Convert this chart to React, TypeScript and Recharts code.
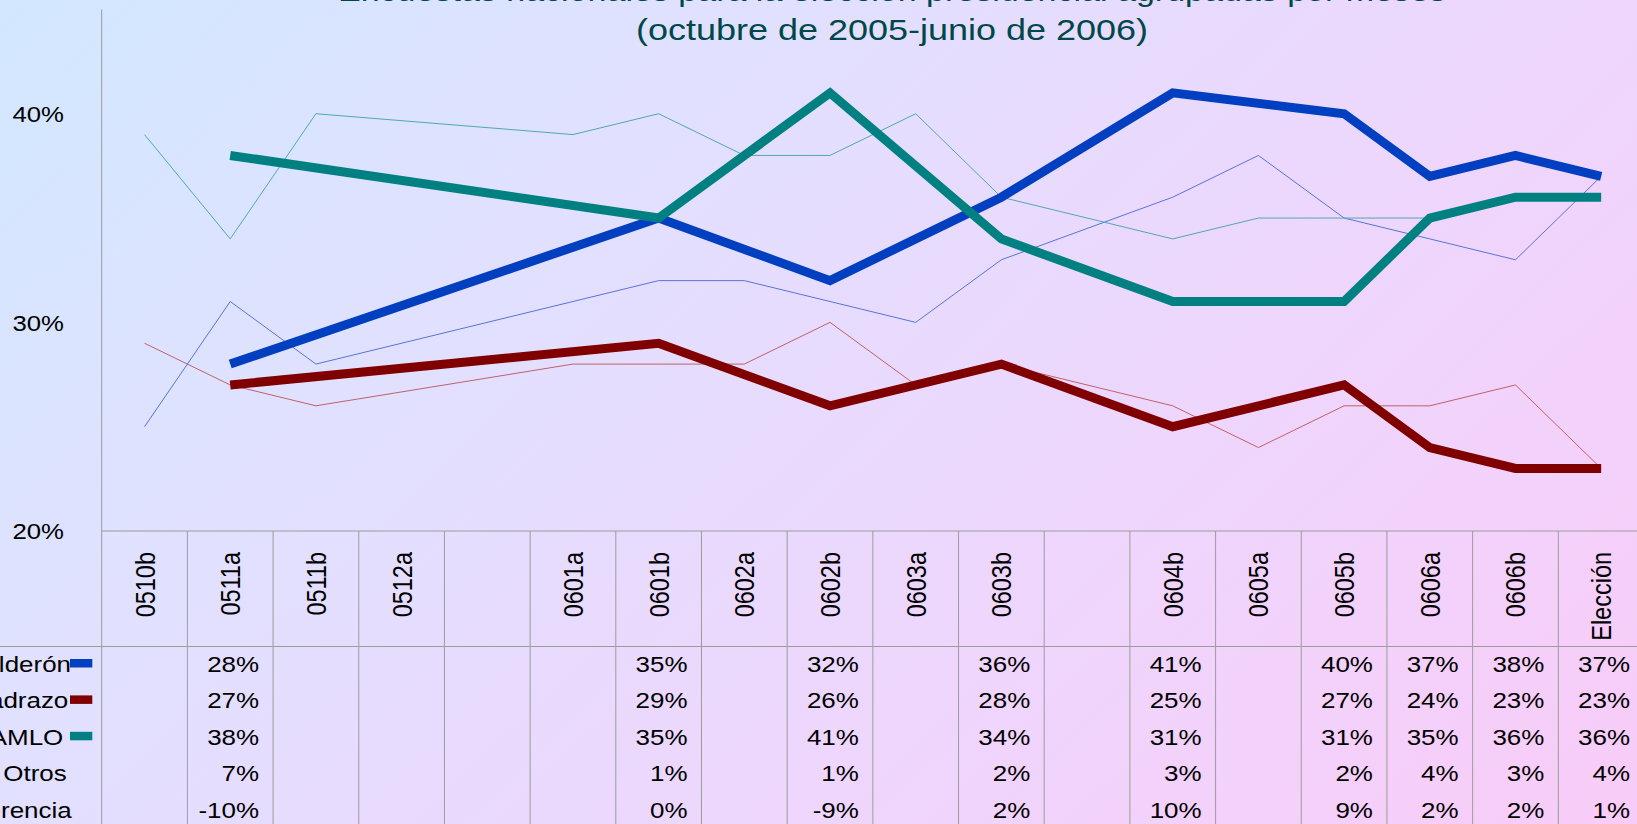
import React from 'react';
import { ComposedChart, Line, XAxis, YAxis } from 'recharts';

// categories (quincenas); "_a" / "_b" are the two empty columns of the table
const categories = ['0510b', '0511a', '0511b', '0512a', '_a', '0601a', '0601b', '0602a', '0602b', '0603a', '0603b', '_b', '0604b', '0605a', '0605b', '0606a', '0606b', 'Elección'];

// thick series (values in %)
const calderon = [null, 28, null, null, null, null, 35, null, 32, null, 36, null, 41, null, 40, 37, 38, 37];
const madrazo = [null, 27, null, null, null, null, 29, null, 26, null, 28, null, 25, null, 27, 24, 23, 23];
const amlo = [null, 38, null, null, null, null, 35, null, 41, null, 34, null, 31, null, 31, 35, 36, 36];
const otros = [null, 7, null, null, null, null, 1, null, 1, null, 2, null, 3, null, 2, 4, 3, 4];
const diferencia = [null, -10, null, null, null, null, 0, null, -9, null, 2, null, 10, null, 9, 2, 2, 1];

// thin series (individual polls)
const calderonPolls = [25, 31, 28, null, null, 31, 32, 32, 31, 30, 33, null, 36, 38, 35, 34, 33, 37];
const madrazoPolls = [29, 27, 26, null, null, 28, 28, 28, 30, 27, 28, null, 26, 24, 26, 26, 27, 23];
const amloPolls = [39, 34, 40, null, null, 39, 40, 38, 38, 40, 36, null, 34, 35, 35, 35, 36, 36];

const rowLabels = ['Calderón', 'Madrazo', 'AMLO', 'Otros', 'Diferencia'];
const tableRows = [calderon, madrazo, amlo, otros, diferencia];
const yTicks = [20, 30, 40];

const BLUE = '#0040c0';
const RED = '#800000';
const TEAL = '#008080';
const keyColors = [BLUE, RED, TEAL, null, null];
const GRID = '#9c9c9c';
const FONT = '"Liberation Sans", Arial, sans-serif';

const W = 1660;
const H = 860;
const PLOT_LEFT = 101.7;
const PLOT_RIGHT = 1644;
const PLOT_BOTTOM = 531;
const COL_W = (PLOT_RIGHT - PLOT_LEFT) / categories.length;
const HEADER_H = 115.5;
const ROW_C = 664;
const ROW_H = 36.4;
const labelEnds = [71, 68.3, 63.3, 66.7, 71.7];

const data = categories.map((cat, i) => ({
  cat,
  calderon: calderon[i],
  madrazo: madrazo[i],
  amlo: amlo[i],
  calderonPolls: calderonPolls[i],
  madrazoPolls: madrazoPolls[i],
  amloPolls: amloPolls[i],
}));

function YTick(props: any) {
  const { x, y, payload } = props;
  return (
    <text transform={`translate(${x},${y + 8.2}) scale(1.12,1)`} textAnchor="end" fontSize={23} fontFamily={FONT} fill="#000">
      {payload.value}%
    </text>
  );
}

function ColumnTick(props: any) {
  const { x, y, payload } = props;
  const i = categories.indexOf(payload.value);
  const left = x - COL_W / 2;
  const label = payload.value.startsWith('_') ? '' : payload.value;
  return (
    <g>
      <line x1={left} x2={left} y1={y} y2={y + 340} stroke={GRID} />
      {i === categories.length - 1 && <line x1={left + COL_W} x2={left + COL_W} y1={y} y2={y + 340} stroke={GRID} />}
      <line x1={left} x2={left + COL_W} y1={y} y2={y} stroke={GRID} />
      <line x1={i === 0 ? 0 : left} x2={left + COL_W} y1={y + HEADER_H} y2={y + HEADER_H} stroke={GRID} />
      {label && (
        <text
          transform={`translate(${x + 10},${y + 21}) scale(1.18,1) rotate(-90)`}
          textAnchor="end"
          fontSize={23.5}
          fontFamily={FONT}
          fill="#000"
        >
          {label}
        </text>
      )}
      {tableRows.map((row, r) =>
        row[i] == null ? null : (
          <text
            key={r}
            transform={`translate(${left + COL_W - 14},${ROW_C + ROW_H * r + 8}) scale(1.18,1)`}
            textAnchor="end"
            fontSize={22}
            fontFamily={FONT}
            fill="#000"
          >
            {row[i]}%
          </text>
        )
      )}
      {i === 0 &&
        rowLabels.map((name, r) => (
          <g key={name}>
            <text
              transform={`translate(${labelEnds[r]},${ROW_C + ROW_H * r + 8}) scale(1.18,1)`}
              textAnchor="end"
              fontSize={22}
              fontFamily={FONT}
              fill="#000"
            >
              {name}
            </text>
            {keyColors[r] && <rect x={70} y={ROW_C + ROW_H * r - 5} width={22.3} height={8.5} fill={keyColors[r] as string} />}
          </g>
        ))}
    </g>
  );
}

export default function App() {
  return (
    <div
      style={{
        position: 'fixed',
        left: 0,
        top: 0,
        width: 1637,
        height: 824,
        overflow: 'hidden',
        background: 'linear-gradient(136deg, #d2e8ff 0%, #e2e0ff 33%, #eed6fc 65%, #f8ccf8 100%)',
      }}
    >
      <svg width={1637} height={60} style={{ position: 'absolute', left: 0, top: 0 }}>
        <text x={892} y={0.5} textAnchor="middle" fontSize={30} fontFamily={FONT} fill="#004848" textLength={1108} lengthAdjust="spacingAndGlyphs">
          Encuestas nacionales para la elección presidencial agrupadas por meses
        </text>
        <text x={892} y={39.5} textAnchor="middle" fontSize={30} fontFamily={FONT} fill="#004848" textLength={512} lengthAdjust="spacingAndGlyphs">
          (octubre de 2005-junio de 2006)
        </text>
      </svg>
      <div style={{ position: 'absolute', left: 0, top: 0 }}>
        <ComposedChart width={W} height={H} data={data} margin={{ top: 9.4, right: W - PLOT_RIGHT, bottom: 0, left: 0 }}>
          <XAxis
            dataKey="cat"
            scale="band"
            interval={0}
            height={H - PLOT_BOTTOM}
            axisLine={false}
            tickLine={false}
            tickSize={0}
            tickMargin={0}
            tick={ColumnTick}
          />
          <YAxis
            domain={[20, 45]}
            ticks={yTicks}
            width={PLOT_LEFT}
            axisLine={{ stroke: GRID }}
            tickLine={false}
            tickSize={0}
            tickMargin={PLOT_LEFT - 64}
            tick={YTick}
          />
          <Line dataKey="calderonPolls" stroke="#5874d8" strokeWidth={1} dot={false} connectNulls isAnimationActive={false} />
          <Line dataKey="madrazoPolls" stroke="#c0606c" strokeWidth={1} dot={false} connectNulls isAnimationActive={false} />
          <Line dataKey="amloPolls" stroke="#50a8b0" strokeWidth={1} dot={false} connectNulls isAnimationActive={false} />
          <Line dataKey="calderon" stroke={BLUE} strokeWidth={9} dot={false} connectNulls isAnimationActive={false} />
          <Line dataKey="madrazo" stroke={RED} strokeWidth={9} dot={false} connectNulls isAnimationActive={false} />
          <Line dataKey="amlo" stroke={TEAL} strokeWidth={9} dot={false} connectNulls isAnimationActive={false} />
        </ComposedChart>
      </div>
    </div>
  );
}
